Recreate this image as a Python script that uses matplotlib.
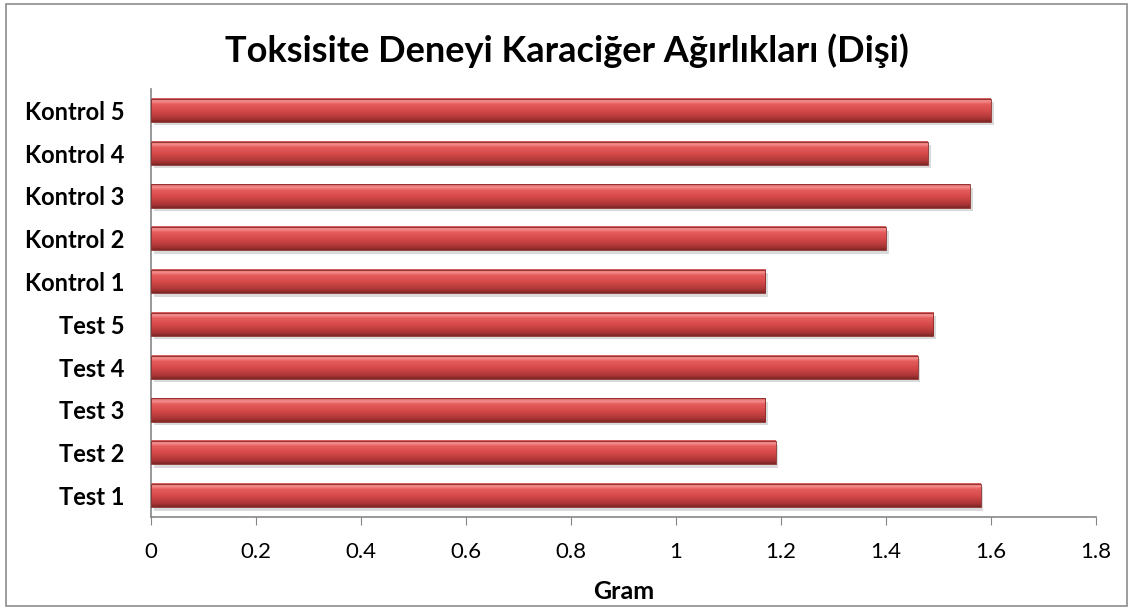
import matplotlib.pyplot as plt
import numpy as np
from matplotlib.colors import LinearSegmentedColormap
from matplotlib.patches import Rectangle

# data
groups = ['Test 1', 'Test 2', 'Test 3', 'Test 4', 'Test 5',
          'Kontrol 1', 'Kontrol 2', 'Kontrol 3', 'Kontrol 4', 'Kontrol 5']
weights = [1.58, 1.19, 1.17, 1.46, 1.49, 1.17, 1.40, 1.56, 1.48, 1.60]
xticks = [0, 0.2, 0.4, 0.6, 0.8, 1, 1.2, 1.4, 1.6, 1.8]
xticklabels = ['0', '0.2', '0.4', '0.6', '0.8', '1', '1.2', '1.4', '1.6', '1.8']

plt.rcParams['font.family'] = ['Lato', 'DejaVu Sans']

fig = plt.figure(figsize=(11.33, 6.08), dpi=100)
ax = fig.add_axes([151/1133, 1 - 517/608, 945/1133, 428/608])

# bevel-ish gradient, top -> bottom
bevel = LinearSegmentedColormap.from_list('bevel', [
    (0.0, '#d05858'), (0.12, '#f49090'), (0.25, '#e65c5c'),
    (0.55, '#d44848'), (0.85, '#ab3636'), (1.0, '#7e2626')])
grad = np.linspace(0, 1, 64).reshape(-1, 1)

h = 0.54
y = np.arange(len(groups))
for yi, v in zip(y, weights):
    # soft shadow under each bar
    ax.add_patch(Rectangle((0.005, yi - h/2 - 0.08), v, h, color='#dadada', lw=0, zorder=1))
    ax.imshow(grad, cmap=bevel, aspect='auto', extent=(0, v, yi - h/2, yi + h/2),
              origin='upper', zorder=2, interpolation='bilinear')
    ax.add_patch(Rectangle((0, yi - h/2), v, h, fill=False, ec='#8a2a2a', lw=0.6, zorder=3))

ax.set_xlim(0, 1.8)
ax.set_ylim(-0.5, len(groups) - 0.5)
ax.set_yticks(y)
ax.set_yticklabels(groups, fontsize=17, fontweight='bold')
ax.tick_params(axis='y', length=0, pad=19)
ax.set_xticks(xticks)
ax.set_xticklabels(xticklabels, fontsize=16)
ax.tick_params(axis='x', length=6, color='#868686', pad=12, direction='out')

for s in ['top', 'right']:
    ax.spines[s].set_visible(False)
for s in ['left', 'bottom']:
    ax.spines[s].set_color('#868686')
    ax.spines[s].set_linewidth(1.2)

ax.set_xlabel('Gram', fontsize=18, fontweight='bold', labelpad=13)
fig.text(0.5, 1 - 51/608, 'Toksisite Deneyi Karaciğer Ağırlıkları (Dişi)',
         ha='center', va='center', fontsize=26, fontweight='bold')

# chart border
fig.patches.append(Rectangle((6/1133, 2/608), 1121/1133, 602/608, transform=fig.transFigure,
                             fill=False, ec='#8c8c8c', lw=1.2))

fig.savefig('out.png', dpi=100)
